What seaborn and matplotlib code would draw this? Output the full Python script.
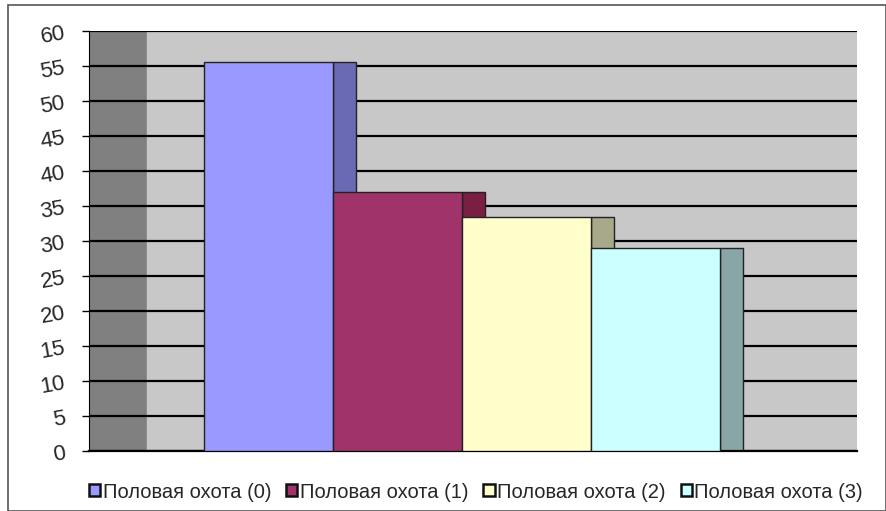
import numpy as np
import pandas as pd
import seaborn as sns
import matplotlib.pyplot as plt
from matplotlib.patches import Rectangle

# Data
series = ["Половая охота (0)", "Половая охота (1)", "Половая охота (2)", "Половая охота (3)"]
values = [55.6, 37.0, 33.4, 29.0]
front_colors = ["#9999FF", "#A0336A", "#FFFFCC", "#CCFFFF"]
side_colors = ["#6A6AB4", "#7A1F42", "#A8A88A", "#88A6A6"]
y_ticks = list(range(0, 65, 5))

df = pd.DataFrame({"series": series, "value": values})

sns.set_style("white")
plt.rcParams["font.family"] = ["Liberation Sans", "DejaVu Sans"]

W, H = 887, 511
fig = plt.figure(figsize=(W / 100, H / 100), dpi=100)
ax = fig.add_axes([89 / W, (H - 451) / H, (857 - 89) / W, (451 - 31) / H])

xmin, xmax = -1.388, 4.56
ax.set_xlim(xmin, xmax)
ax.set_ylim(0, 60)

# walls
ax.axvspan(xmin, xmin + 58 / 129, color="#808080", zorder=0)
ax.axvspan(xmin + 58 / 129, xmax, color="#C8C8C8", zorder=0)
for y in y_ticks:
    ax.axhline(y, color="black", lw=1.6, zorder=1)

# front faces
sns.barplot(data=df, x="series", y="value", hue="series", palette=front_colors,
            dodge=False, width=1.0, saturation=1, edgecolor="#222222", linewidth=1.0,
            legend=False, ax=ax, zorder=3)
ax.set_xlim(xmin, xmax)

# side faces (3D depth)
ax.bar(np.arange(len(values)) + 0.5, values, width=23 / 129, align="edge",
       color=side_colors, edgecolor="#222222", linewidth=1.0, zorder=2)

ax.set_xticks([])
ax.set_xlabel("")
ax.set_ylabel("")
ax.set_yticks(y_ticks)
ax.set_yticklabels([str(t) for t in y_ticks], fontsize=16, rotation=10)
ax.tick_params(axis="y", length=5, width=1, color="black", pad=11, left=True)
for s in ["top", "right"]:
    ax.spines[s].set_visible(False)
ax.spines["left"].set_color("black")
ax.spines["bottom"].set_color("black")
ax.spines["bottom"].set_linewidth(1.6)

# legend
handles = [Rectangle((0, 0), 1, 1, facecolor=c, edgecolor="#111111", lw=1.8) for c in front_colors]
fig.legend(handles, series, loc="center", bbox_to_anchor=(476 / W, 1 - 492 / H), ncol=4,
           frameon=False, fontsize=14.5, handlelength=0.55, handleheight=0.55,
           handletextpad=0.12, columnspacing=0.75)

# outer frame
fig.patches.append(Rectangle((8 / W, 0), (W - 9) / W, (H - 5) / H, transform=fig.transFigure,
                             fill=False, edgecolor="#555555", lw=1.2))

fig.savefig("out.png", dpi=100)
